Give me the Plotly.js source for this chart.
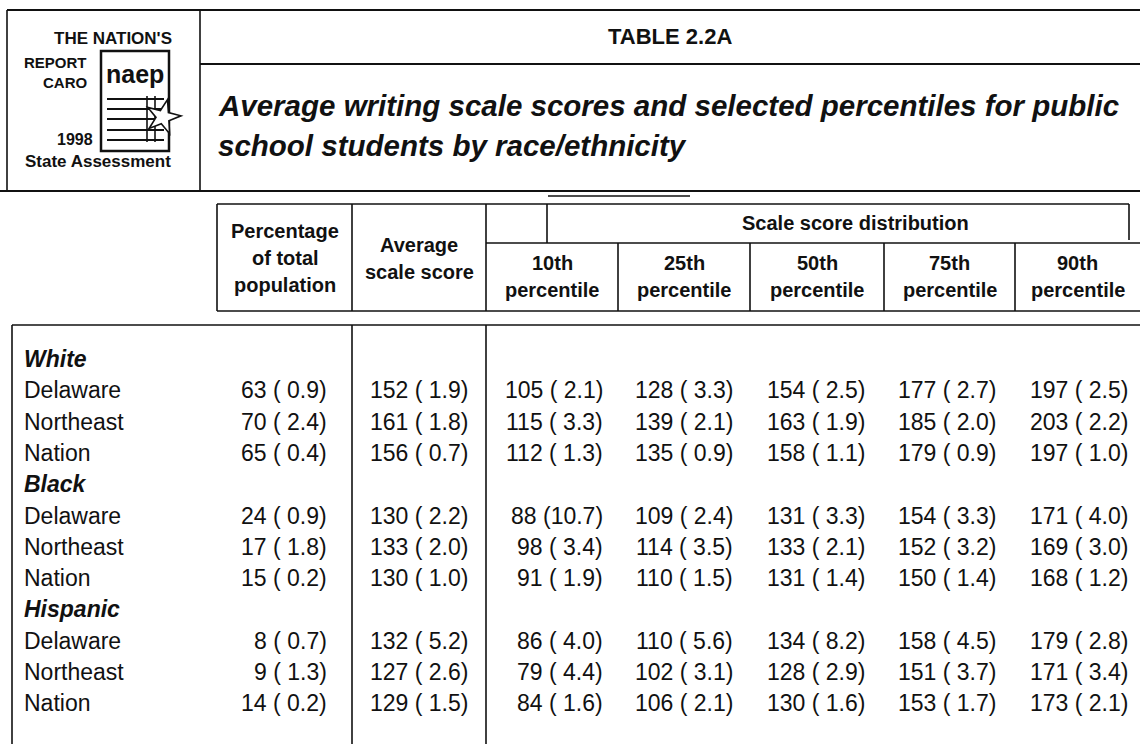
<!DOCTYPE html>
<html>
<head>
<meta charset="utf-8">
<script src="https://cdn.plot.ly/plotly-3.0.1.min.js"></script>
<style>
  html, body { margin: 0; padding: 0; background: #ffffff; }
  #chart { width: 1140px; height: 744px; }
</style>
</head>
<body>
<div id="chart"></div>
<script>
// ---------------- DATA ----------------
const groups = ['White', 'Black', 'Hispanic'];
const jurisdictions = ['Delaware', 'Northeast', 'Nation'];

// rows: White(Del, NE, Nation), Black(Del, NE, Nation), Hispanic(Del, NE, Nation)
const pctPopulation   = [63, 70, 65, 24, 17, 15, 8, 9, 14];
const pctPopulationSE = [0.9, 2.4, 0.4, 0.9, 1.8, 0.2, 0.7, 1.3, 0.2];
const avgScore        = [152, 161, 156, 130, 133, 130, 132, 127, 129];
const avgScoreSE      = [1.9, 1.8, 0.7, 2.2, 2.0, 1.0, 5.2, 2.6, 1.5];
const p10   = [105, 115, 112, 88, 98, 91, 86, 79, 84];
const p10SE = [2.1, 3.3, 1.3, 10.7, 3.4, 1.9, 4.0, 4.4, 1.6];
const p25   = [128, 139, 135, 109, 114, 110, 110, 102, 106];
const p25SE = [3.3, 2.1, 0.9, 2.4, 3.5, 1.5, 5.6, 3.1, 2.1];
const p50   = [154, 163, 158, 131, 133, 131, 134, 128, 130];
const p50SE = [2.5, 1.9, 1.1, 3.3, 2.1, 1.4, 8.2, 2.9, 1.6];
const p75   = [177, 185, 179, 154, 152, 150, 158, 151, 153];
const p75SE = [2.7, 2.0, 0.9, 3.3, 3.2, 1.4, 4.5, 3.7, 1.7];
const p90   = [197, 203, 197, 171, 169, 168, 179, 171, 173];
const p90SE = [2.5, 2.2, 1.0, 4.0, 3.0, 1.2, 2.8, 3.4, 2.1];

const percentileLabels = ['10th', '25th', '50th', '75th', '90th'];
const headerPct = ['Percentage', 'of total', 'population'];
const headerAvg = ['Average', 'scale score'];
const tableTitle = 'TABLE 2.2A';
const subtitleLines = ['Average writing scale scores and selected percentiles for public',
                       'school students by race/ethnicity'];
const distributionLabel = 'Scale score distribution';
const logoLines = ["THE NATION'S", 'REPORT', 'CARO', '1998', 'State Assessment'];

// ---------------- LAYOUT HELPERS ----------------
const W = 1140, H = 744;
const FONT = 'Liberation Sans, Arial, Helvetica, sans-serif';
const INK = '#111111';

const annotations = [];
const shapes = [];

function txt(x, y, text, opts) {
  opts = opts || {};
  annotations.push({
    x: x, y: y, xref: 'x', yref: 'y', text: text, showarrow: false,
    xanchor: opts.xanchor || 'center', yanchor: 'middle',
    font: { family: opts.family || FONT, size: opts.size || 23, color: INK,
            weight: opts.bold ? 'bold' : 'normal', style: opts.italic ? 'italic' : 'normal' }
  });
}
function line(x0, y0, x1, y1, w) {
  shapes.push({ type: 'line', xref: 'x', yref: 'y', x0: x0, y0: y0, x1: x1, y1: y1,
                line: { color: INK, width: w || 1.6 } });
}

// ---------------- HEADER BLOCK ----------------
line(7, 10, W, 10, 2);
line(7, 10, 7, 191, 1.6);
line(200, 10, 200, 191, 1.6);
line(200, 64, W, 64, 2);
line(0, 191, W, 191, 2);

txt(670, 36, tableTitle, { size: 22, bold: true });
txt(216, 105, subtitleLines[0], { size: 29.5, bold: true, italic: true, xanchor: 'left' });
txt(216, 145, subtitleLines[1], { size: 29.5, bold: true, italic: true, xanchor: 'left' });

// logo
txt(174, 38, logoLines[0], { size: 17, bold: true, xanchor: 'right' });
txt(89, 62, logoLines[1], { size: 15, bold: true, xanchor: 'right' });
txt(89, 82, logoLines[2], { size: 15, bold: true, xanchor: 'right' });
txt(95, 139, logoLines[3], { size: 16, bold: true, xanchor: 'right' });
txt(98, 161, logoLines[4], { size: 17, bold: true });
shapes.push({ type: 'rect', xref: 'x', yref: 'y', x0: 101, y0: 51, x1: 169, y1: 151,
              line: { color: INK, width: 2.5 }, fillcolor: 'rgba(0,0,0,0)' });
txt(135, 74, 'naep', { size: 25, bold: true });
[99, 109, 119, 130, 140].forEach(function (yy) { line(107, yy, 164, yy, 2); });
line(147, 96, 147, 142, 1.6);
line(155, 96, 155, 142, 1.6);
(function star() {
  const cx = 163, cy = 117, ro = 18, ri = 7;
  let d = '';
  for (let i = 0; i < 10; i++) {
    const r = i % 2 === 0 ? ro : ri;
    const a = -Math.PI / 2 + i * Math.PI / 5 + 0.25;
    d += (i === 0 ? 'M' : 'L') + (cx + r * Math.cos(a)).toFixed(1) + ',' + (cy + r * Math.sin(a)).toFixed(1);
  }
  shapes.push({ type: 'path', xref: 'x', yref: 'y', path: d + 'Z',
                fillcolor: '#ffffff', line: { color: INK, width: 1.6 } });
})();

// ---------------- TABLE HEADER ----------------
const colEdges = [217, 352, 486, 618, 750, 884, 1015, W];
line(217, 204, 1129, 204);
line(548, 196, 690, 196, 1.4);
line(547, 204, 547, 243);
line(1129, 204, 1129, 240);
line(486, 243, W, 243);
line(217, 311, W, 311);
[217, 352, 486].forEach(function (xx) { line(xx, 204, xx, 311); });
[618, 750, 884, 1015].forEach(function (xx) { line(xx, 243, xx, 311); });

txt(855, 223, distributionLabel, { size: 20, bold: true });
headerPct.forEach(function (s, i) { txt(285, 231 + i * 27, s, { size: 20, bold: true }); });
headerAvg.forEach(function (s, i) { txt(419, 245 + i * 27, s, { size: 20, bold: true }); });
percentileLabels.forEach(function (s, i) {
  const cx = (colEdges[i + 2] + colEdges[i + 3]) / 2;
  txt(cx, 263, s, { size: 20, bold: true });
  txt(cx, 290, 'percentile', { size: 20, bold: true });
});

// ---------------- TABLE BODY ----------------
line(12, 325, W, 325);
[12, 352, 486].forEach(function (xx) { line(xx, 325, xx, H); });

const rowY0 = 359, rowStep = 31.3;
function fmt(v, se) {
  return v + ' (' + (se < 10 ? ' ' : '') + se.toFixed(1) + ')';
}
const columns = [
  [pctPopulation, pctPopulationSE, 329],
  [avgScore, avgScoreSE, 470],
  [p10, p10SE, 605],
  [p25, p25SE, 735],
  [p50, p50SE, 867],
  [p75, p75SE, 998],
  [p90, p90SE, 1130]
];
let r = 0;
groups.forEach(function (g, gi) {
  txt(22, rowY0 + r * rowStep, g, { size: 23, bold: true, italic: true, xanchor: 'left' });
  r++;
  jurisdictions.forEach(function (j, ji) {
    const y = rowY0 + r * rowStep;
    const k = gi * 3 + ji;
    txt(22, y, j, { size: 23, xanchor: 'left' });
    columns.forEach(function (c) { txt(c[2], y, fmt(c[0][k], c[1][k]), { size: 23, xanchor: 'right' }); });
    r++;
  });
});

const layout = {
  width: W, height: H,
  margin: { l: 0, r: 0, t: 0, b: 0, pad: 0 },
  paper_bgcolor: '#ffffff', plot_bgcolor: '#ffffff',
  xaxis: { range: [0, W], visible: false, fixedrange: true },
  yaxis: { range: [H, 0], visible: false, fixedrange: true },
  showlegend: false,
  annotations: annotations,
  shapes: shapes
};
Plotly.newPlot('chart', [{ x: [], y: [], type: 'scatter', mode: 'markers', hoverinfo: 'skip' }], layout,
               { staticPlot: true, displayModeBar: false });
</script>
</body>
</html>
